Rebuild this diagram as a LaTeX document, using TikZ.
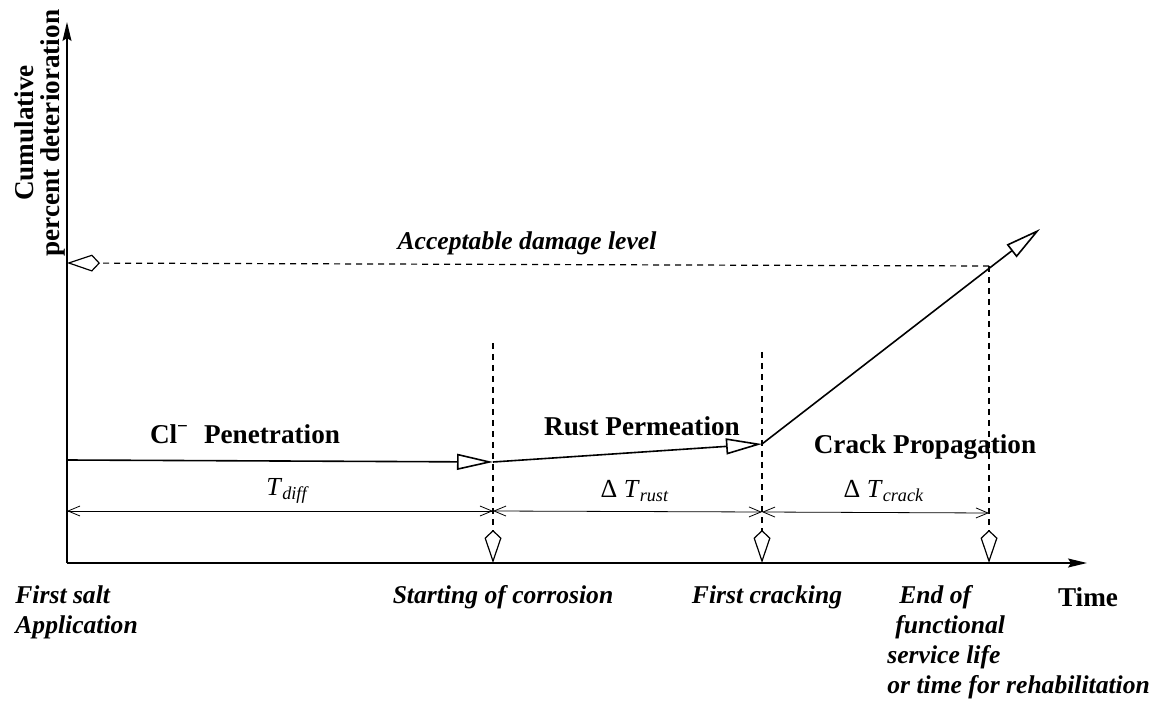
\documentclass[tikz,border=0pt]{standalone}
\usepackage{fontspec}
\setmainfont{Liberation Serif}
\usetikzlibrary{arrows.meta}
\tikzset{
    axis/.style={
        -{Stealth[length=9.5pt,width=4.5pt,inset=1.5pt]},
        line width=0.7pt
    },
    stage/.style={
        -{Triangle[open,length=18pt,width=8pt]},
        line width=0.8pt
    },
    marker/.style={
        dash pattern=on 3pt off 2.5pt,
        line width=0.6pt,
        -{Kite[open,length=16.5pt,width=8.5pt,inset=4pt]}
    },
    span/.style={
        {Straight Barb[length=6pt,width=5pt]}-{Straight Barb[length=6pt,width=5pt]},
        line width=0.4pt
    },
    phase/.style={font=\fontsize{13.6}{14}\selectfont\bfseries},
    event/.style={font=\fontsize{12.8}{15}\selectfont\bfseries\itshape, align=left, inner sep=0pt},
    period/.style={font=\fontsize{13}{15}\selectfont}
}

\begin{document}
\begin{tikzpicture}[x=0.5pt,y=-0.5pt]
\useasboundingbox (0,0) rectangle (1159,704);

\coordinate (O) at (67,563);
\coordinate (ytop) at (67,22);
\coordinate (xend) at (1087,563);
\draw[axis] (O) -- (ytop);
\draw[axis] (O) -- (xend);

\coordinate (s0) at (67,460);
\coordinate (s1) at (493,462);
\coordinate (s2) at (762,444);
\coordinate (s3) at (1040,229);
\draw[stage] (s0) -- (s1);
\draw[stage] (s1) -- (s2);
\draw[stage] (s2) -- (s3);

\coordinate (lim) at (989,266);
\coordinate (lim0) at (67,263);
\draw[marker] (lim) -- (lim0);

\coordinate (m1) at (493,343);
\coordinate (m2) at (762,352);
\foreach \m in {m1,m2,lim}
    \draw[marker] (\m) -- (\m |- O);

\coordinate (d0) at (67,511);
\coordinate (d1) at (493,511);
\coordinate (d2) at (762,512);
\coordinate (d3) at (989,513);
\draw[span] (d0) -- (d1);
\draw[span] (d1) -- (d2);
\draw[span] (d2) -- (d3);

\node[phase, rotate=90] (ylab1) at (24,133) {Cumulative};
\node[phase, rotate=90] (ylab2) at (53,133) {percent deterioration};
\node[event] (limlab) at (527,243) {Acceptable damage level};

\node[phase] (cl) at (245,434) {Cl\textsuperscript{−}\hspace{0.55em}Penetration};
\node[phase] (rust) at (642,426) {Rust Permeation};
\node[phase] (crack) at (925,447) {Crack Propagation};

\node[period] (tdiff) at (288,491) {\textit{T}\textsubscript{\textit{diff}}};
\node[period] (trust) at (635,491) {Δ \textit{T}\textsubscript{\textit{rust}}};
\node[period] (tcrack) at (884,491) {Δ \textit{T}\textsubscript{\textit{crack}}};

\node[event, anchor=north west] (salt) at (15,585) {First salt\\Application};
\node[event, anchor=base] (corr) at (503,603) {Starting of corrosion};
\node[event, anchor=base] (first) at (767,603) {First cracking};
\node[event, anchor=north west] (end) at (887,585) {\hspace*{6pt}End of\\\hspace*{4pt}functional\\service life\\or time for rehabilitation};
\node[phase, anchor=base] (time) at (1088,606) {Time};
\end{tikzpicture}
\end{document}
